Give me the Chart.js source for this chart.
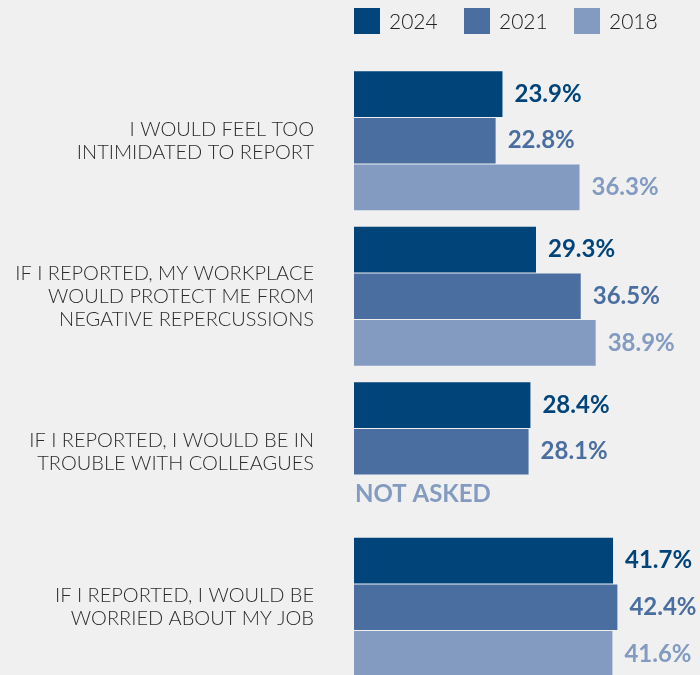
<!DOCTYPE html>
<html>
<head>
<meta charset="utf-8">
<script src="https://cdn.jsdelivr.net/npm/chart.js@4.4.0/dist/chart.umd.min.js"></script>
<style>
  html, body { margin: 0; padding: 0; background: #f0f0f0; overflow: hidden; }
  #wrap { position: relative; width: 700px; height: 690px; }
</style>
</head>
<body>
<div id="wrap"><canvas id="chart"></canvas></div>
<script>
// Survey statements (multi-line labels) and the share agreeing, by survey year
const STATEMENTS = [
  ['I WOULD FEEL TOO', 'INTIMIDATED TO REPORT'],
  ['IF I REPORTED, MY WORKPLACE', 'WOULD PROTECT ME FROM', 'NEGATIVE REPERCUSSIONS'],
  ['IF I REPORTED, I WOULD BE IN', 'TROUBLE WITH COLLEAGUES'],
  ['IF I REPORTED, I WOULD BE', 'WORRIED ABOUT MY JOB'],
];
const YEARS = ['2024', '2021', '2018'];
const VALUES_2024 = [23.9, 29.3, 28.4, 41.7];
const VALUES_2021 = [22.8, 36.5, 28.1, 42.4];
const VALUES_2018 = [36.3, 38.9, null, 41.6];   // third question not asked in 2018
const COLORS = ['#00447a', '#4a6ea0', '#839bc1'];

const LABEL_FONT = '"Lato", "Open Sans", sans-serif';

// legend row drawn above the bars
const legendPlugin = {
  id: 'topLegend',
  afterDraw(chart) {
    const ctx = chart.ctx;
    const left = chart.chartArea.left;
    ctx.save();
    ctx.font = '300 21px ' + LABEL_FONT;
    ctx.textBaseline = 'middle';
    chart.data.datasets.forEach((ds, i) => {
      const x = left + i * 110;
      ctx.fillStyle = ds.backgroundColor;
      ctx.fillRect(x, 8, 26, 26);
      ctx.fillStyle = '#222';
      ctx.fillText(ds.label, x + 35, 22);
    });
    ctx.restore();
  }
};

// percent labels at the end of each bar, "NOT ASKED" where no value exists
const valueLabels = {
  id: 'valueLabels',
  afterDatasetsDraw(chart) {
    const ctx = chart.ctx;
    const xs = chart.scales.x;
    ctx.save();
    ctx.font = 'bold 24px ' + LABEL_FONT;
    ctx.textBaseline = 'middle';
    ctx.textAlign = 'left';
    chart.data.datasets.forEach((ds, di) => {
      const meta = chart.getDatasetMeta(di);
      meta.data.forEach((bar, i) => {
        const v = ds.data[i];
        ctx.fillStyle = ds.backgroundColor;
        if (v == null) {
          ctx.fillText('NOT ASKED', xs.getPixelForValue(0) + 1, bar.y - 4);
        } else {
          ctx.fillText(v.toFixed(1) + '%', xs.getPixelForValue(v) + 12, bar.y);
        }
      });
    });
    ctx.restore();
  }
};

new Chart(document.getElementById('chart'), {
  type: 'bar',
  data: {
    labels: STATEMENTS,
    datasets: [VALUES_2024, VALUES_2021, VALUES_2018].map((data, i) => ({
      label: YEARS[i],
      data,
      backgroundColor: COLORS[i],
      barPercentage: 0.98,
      categoryPercentage: 0.9,
    })),
  },
  options: {
    indexAxis: 'y',
    responsive: true,
    maintainAspectRatio: false,
    animation: false,
    layout: { padding: { top: 63, bottom: 5, left: 0, right: 0 } },
    plugins: { legend: { display: false }, tooltip: { enabled: false } },
    scales: {
      x: { display: false, min: 0, max: 55.7 },
      y: {
        grid: { display: false, drawTicks: false },
        border: { display: false },
        ticks: {
          color: '#2b2b2b',
          padding: 40,
          font: { family: LABEL_FONT, size: 20, weight: '300', lineHeight: 1.15 },
        },
        afterFit(scale) {
          // fixed label column; labels sit inside the bands, no extra top/bottom room
          scale.width = 354;
          scale.paddingTop = 0;
          scale.paddingBottom = 0;
        },
      },
    },
  },
  plugins: [legendPlugin, valueLabels],
});
</script>
</body>
</html>
